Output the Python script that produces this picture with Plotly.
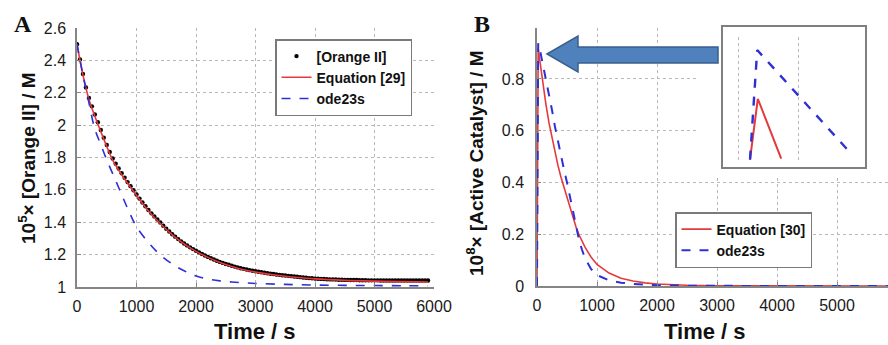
import plotly.graph_objects as go

W, H = 888, 345

# ---------------- Panel A data ----------------
t_obs = list(range(0, 5901, 50))
orange_obs = [
    2.500, 2.405, 2.316, 2.233, 2.168, 2.116, 2.066, 2.018, 1.970, 1.922,
    1.877, 1.834, 1.794, 1.762, 1.732, 1.703, 1.675, 1.648, 1.623, 1.598,
    1.571, 1.546, 1.522, 1.499, 1.476, 1.455, 1.436, 1.417, 1.398, 1.378,
    1.360, 1.343, 1.326, 1.311, 1.296, 1.282, 1.269, 1.257, 1.245, 1.234,
    1.224, 1.214, 1.204, 1.195, 1.186, 1.178, 1.170, 1.162, 1.155, 1.149,
    1.142, 1.137, 1.131, 1.126, 1.121, 1.116, 1.112, 1.108, 1.104, 1.100,
    1.097, 1.094, 1.091, 1.088, 1.085, 1.082, 1.080, 1.077, 1.075, 1.073,
    1.071, 1.069, 1.067, 1.065, 1.063, 1.061, 1.059, 1.057, 1.055, 1.054,
    1.052, 1.051, 1.050, 1.049, 1.048, 1.047, 1.047, 1.046, 1.045, 1.045,
    1.044, 1.044, 1.043, 1.043, 1.043, 1.042, 1.042, 1.042, 1.041, 1.041,
    1.041, 1.041, 1.040, 1.040, 1.040, 1.040, 1.040, 1.040, 1.040, 1.040,
    1.040, 1.040, 1.040, 1.040, 1.040, 1.040, 1.040, 1.040, 1.040,
]
t_fit = [0, 100, 200, 300, 400, 500, 600, 700, 800, 900, 1000, 1200, 1400, 1600,
         1800, 2000, 2200, 2400, 2600, 2800, 3000, 3500, 4000, 4500, 5000, 5500, 5900]
orange_eq29 = [2.50, 2.31, 2.16, 2.055, 1.96, 1.868, 1.783, 1.722, 1.667, 1.616, 1.566,
               1.47, 1.392, 1.322, 1.266, 1.220, 1.183, 1.152, 1.127, 1.107, 1.092,
               1.066, 1.050, 1.041, 1.036, 1.033, 1.031]
orange_ode = [2.50, 2.31, 2.14, 1.975, 1.88, 1.785, 1.70, 1.615, 1.528, 1.445, 1.372,
              1.275, 1.198, 1.142, 1.100, 1.068, 1.050, 1.038, 1.031, 1.026, 1.022,
              1.016, 1.012, 1.010, 1.009, 1.008, 1.008]

# ---------------- Panel B data ----------------
t_cat = [0, 20, 60, 100, 150, 200, 250, 300, 350, 400, 450, 500, 550, 600, 650, 700,
         750, 800, 900, 1000, 1200, 1400, 1600, 1800, 2000, 2500, 3000, 4000, 5000, 6000]
cat_eq30 = [0, 0.918, 0.85, 0.78, 0.70, 0.63, 0.57, 0.515, 0.465, 0.42, 0.38, 0.34,
            0.30, 0.262, 0.228, 0.198, 0.172, 0.15, 0.112, 0.083, 0.05, 0.03, 0.019,
            0.012, 0.008, 0.003, 0.001, 0.0, 0.0, 0.0]
cat_ode = [0, 0.938, 0.90, 0.855, 0.80, 0.74, 0.68, 0.615, 0.555, 0.50, 0.45, 0.40,
           0.345, 0.28, 0.225, 0.178, 0.14, 0.108, 0.066, 0.042, 0.022, 0.013, 0.008,
           0.005, 0.003, 0.001, 0.0, 0.0, 0.0, 0.0]

# inset (zoom of the peak)
ins_t_ode = [20, 32, 187]
ins_ode = [0.900, 0.9447, 0.9028]
ins_t_eq = [20, 33, 72]
ins_eq = [0.900, 0.9248, 0.9004]

xA_ticks = [0, 1000, 2000, 3000, 4000, 5000, 6000]
yA_ticks = [1, 1.2, 1.4, 1.6, 1.8, 2, 2.2, 2.4, 2.6]
xB_ticks = [0, 1000, 2000, 3000, 4000, 5000]
yB_ticks = [0, 0.2, 0.4, 0.6, 0.8]

RED = "#e53a3d"
BLUE = "#2f2fd6"
GRID = "#b8b8b8"
AXC = "#858585"
FONT = "Liberation Sans, Arial, sans-serif"

def px(x):
    return x / W

def py(y):
    return 1 - y / H

fig = go.Figure()

# Panel A traces
fig.add_trace(go.Scatter(x=t_obs, y=orange_obs, mode="markers", name="[Orange II]",
                         marker=dict(color="black", size=4.4), xaxis="x", yaxis="y",
                         legend="legend"))
fig.add_trace(go.Scatter(x=t_fit, y=orange_eq29, mode="lines", name="Equation [29]",
                         line=dict(color=RED, width=1.6, shape="spline"),
                         xaxis="x", yaxis="y", legend="legend"))
fig.add_trace(go.Scatter(x=t_fit, y=orange_ode, mode="lines", name="ode23s",
                         line=dict(color=BLUE, width=1.6, dash="dash", shape="spline"),
                         xaxis="x", yaxis="y", legend="legend"))

# Panel B traces
fig.add_trace(go.Scatter(x=t_cat, y=cat_eq30, mode="lines", name="Equation [30]",
                         line=dict(color=RED, width=1.6),
                         xaxis="x2", yaxis="y2", legend="legend2"))
fig.add_trace(go.Scatter(x=t_cat, y=cat_ode, mode="lines", name="ode23s",
                         line=dict(color=BLUE, width=2, dash="dash"),
                         xaxis="x2", yaxis="y2", legend="legend2"))

# white backdrop subplot (pasted inset area)
fig.add_trace(go.Scatter(x=[0], y=[0], mode="markers", opacity=0, showlegend=False,
                         hoverinfo="skip", xaxis="x3", yaxis="y3"))
# inset traces
fig.add_trace(go.Scatter(x=ins_t_eq, y=ins_eq, mode="lines", showlegend=False,
                         line=dict(color=RED, width=2), xaxis="x4", yaxis="y4"))
fig.add_trace(go.Scatter(x=ins_t_ode, y=ins_ode, mode="lines", showlegend=False,
                         line=dict(color=BLUE, width=2.4, dash="dash"),
                         xaxis="x4", yaxis="y4"))

tickfont = dict(family=FONT, size=16, color="#1a1a1a")

common_ax = dict(showgrid=True, gridcolor=GRID, griddash="dot", gridwidth=1,
                 zeroline=False, showline=True, linecolor=AXC, linewidth=1.5,
                 ticks="inside", ticklen=4, tickcolor=AXC, tickfont=tickfont,
                 mirror=False, automargin=False)

legend_font = dict(family=FONT, size=14, color="#111", weight="bold")

fig.update_layout(
    width=W, height=H,
    margin=dict(l=0, r=0, t=0, b=0, autoexpand=False),
    paper_bgcolor="white", plot_bgcolor="white",
    font=dict(family=FONT, color="#1a1a1a"),
    xaxis=dict(domain=[px(77), px(434)], range=[0, 6000], tickvals=xA_ticks,
               ticktext=[str(v) for v in xA_ticks], anchor="y", ticklabelstandoff=4,
               **common_ax),
    yaxis=dict(domain=[py(287), py(28)], range=[1, 2.6], tickvals=yA_ticks,
               ticktext=["1", "1.2", "1.4", "1.6", "1.8", "2", "2.2", "2.4", "2.6"],
               anchor="x", ticklabelstandoff=6, **common_ax),
    xaxis2=dict(domain=[px(537), 1.0], range=[0, 5850], tickvals=xB_ticks,
                ticktext=[str(v) for v in xB_ticks], anchor="y2", ticklabelstandoff=4,
                **common_ax),
    yaxis2=dict(domain=[py(286), py(28)], range=[0, 0.997], tickvals=yB_ticks,
                ticktext=["0", "0.2", "0.4", "0.6", "0.8"], anchor="x2",
                ticklabelstandoff=8, **common_ax),
    xaxis3=dict(domain=[px(697), 1.0], range=[0, 1], visible=False, anchor="y3",
                fixedrange=True, automargin=False),
    yaxis3=dict(domain=[py(178), 1.0], range=[1, 2], visible=False, anchor="x3",
                fixedrange=True, automargin=False),
    xaxis4=dict(domain=[px(722), px(866)], range=[-26.67, 213.3], anchor="y4",
                tickvals=[0, 100], showticklabels=False, ticks="", showgrid=True,
                gridcolor=GRID, griddash="dot", zeroline=False, showline=False,
                automargin=False),
    yaxis4=dict(domain=[py(162), py(37)], range=[0.899, 0.95], anchor="x4",
                showticklabels=False, ticks="", showgrid=False, zeroline=False,
                showline=False, automargin=False),
    legend=dict(x=px(275), y=py(39), xanchor="left", yanchor="top",
                bgcolor="white", bordercolor="#7a7a7a", borderwidth=1.5,
                font=legend_font, tracegroupgap=0, itemwidth=30),
    legend2=dict(x=px(675), y=py(212), xanchor="left", yanchor="top",
                 bgcolor="white", bordercolor="#7a7a7a", borderwidth=1.5,
                 font=legend_font, tracegroupgap=0, itemwidth=30),
    showlegend=True,
)

# annotations: panel letters and axis titles
SERIF = "Liberation Serif, Times New Roman, serif"
def note(text, x, y, size, family=FONT, angle=0):
    return dict(text=text, x=px(x), y=py(y), xref="paper", yref="paper",
                xanchor="center", yanchor="middle", showarrow=False, textangle=angle,
                font=dict(family=family, size=size, color="#111"))

ann = [
    note("<b>A</b>", 23, 24, 24, SERIF),
    note("<b>B</b>", 482, 24, 24, SERIF),
    note("<b>Time / s</b>", 255, 331, 22),
    note("<b>Time / s</b>", 705, 331, 22),
    note("<b>10<sup>5</sup>× [Orange II] / M</b>", 27, 158, 19, angle=-90),
    note("<b>10<sup>8</sup>× [Active Catalyst] / M</b>", 475, 164, 19, angle=-90),
]
fig.update_layout(annotations=ann)

# inset frame and block arrow
arrow_pts = [(547, 54), (578, 36), (578, 47), (718, 47), (718, 63), (578, 63), (578, 72)]
path = "M " + " L ".join(f"{px(a):.5f},{py(b):.5f}" for a, b in arrow_pts) + " Z"
fig.update_layout(shapes=[
    dict(type="rect", xref="paper", yref="paper", x0=px(722), x1=px(866),
         y0=py(168), y1=py(26), line=dict(color="#7f7f7f", width=2),
         fillcolor="rgba(0,0,0,0)", layer="above"),
    dict(type="path", xref="paper", yref="paper", path=path,
         fillcolor="#4f81bd", line=dict(color="#3a5f8c", width=1.5), layer="above"),
])

fig.write_html("out.html", config={"displayModeBar": False},
               post_script="document.body.style.margin='0';document.body.style.overflow='hidden';")
